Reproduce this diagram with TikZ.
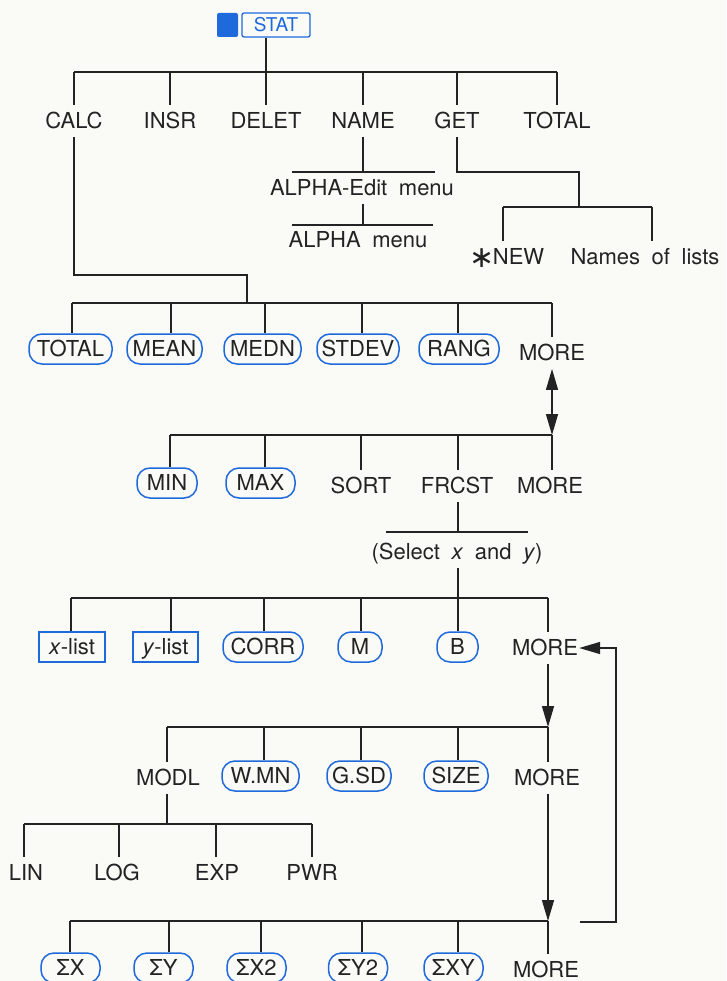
\documentclass[tikz,border=0pt]{standalone}
\usepackage{fontspec}
\setmainfont[WordSpace=1.9]{TeX Gyre Heros}
\newfontfamily\symfont{DejaVu Sans}
\usetikzlibrary{arrows.meta}
\definecolor{hpblue}{RGB}{30,105,220}
\definecolor{ink}{RGB}{35,35,35}
\definecolor{paper}{RGB}{250,250,246}
\newcommand\mystem[3]{\coordinate (#1) at (#2); \draw[ln] (#1) -- (#1 |- #3.north);}
\begin{document}
\begin{tikzpicture}[x=1pt,y=-1pt,
  every node/.style={font=\fontsize{22}{26}\selectfont, text=ink},
  lbl/.style={inner xsep=1pt, inner ysep=8pt, text height=15.5pt, text depth=0pt},
  oval/.style={draw=hpblue, line width=1.5pt, rounded corners=13pt, minimum height=30pt,
    inner xsep=2pt, inner ysep=0pt, text height=15.5pt, text depth=0pt},
  sq/.style={draw=hpblue, line width=1.5pt, minimum height=30pt,
    inner xsep=2pt, inner ysep=0pt, text height=15.5pt, text depth=0pt},
  ln/.style={draw=ink, line width=1.4pt},
  arr/.style={ln, -{Triangle[length=21pt,width=12pt]}},
  darr/.style={ln, {Triangle[length=21pt,width=12pt]}-{Triangle[length=21pt,width=12pt]}}]
\fill[paper] (0,0) rectangle (726,981);
\useasboundingbox (0,0) rectangle (726,981);

% top
\node[fill=hpblue, rounded corners=2pt, minimum width=21pt, minimum height=24pt, inner sep=0pt] (shiftkey) at (227.5,25) {};
\node[draw=hpblue, line width=1.3pt, rounded corners=2pt, minimum width=68pt, minimum height=24pt,
  inner sep=0pt, text=hpblue, font=\fontsize{19}{22}\selectfont] (stat) at (276,25) {STAT};
\coordinate (top) at (266,72);
\draw[ln] (top |- stat.south) -- (top);

% first menu row
\node[lbl] (calc) at (74,121) {CALC};
\node[lbl] (insr) at (170,121) {INSR};
\node[lbl] (delet) at (266,121) {DELET};
\node[lbl] (name) at (363,121) {NAME};
\node[lbl] (get) at (457,121) {GET};
\node[lbl] (total) at (557,121) {TOTAL};
\draw[ln] (calc.north |- top) -- (total.north |- top);
\foreach \n in {calc,insr,delet,name,get,total} \draw[ln] (\n.north |- top) -- (\n.north);

% NAME subtree
\node[lbl] (alphaedit) at (362,188) {ALPHA-Edit menu};
\node[lbl] (alpha) at (358,240) {ALPHA menu};
\draw[ln] (292,172) -- (435,172);
\draw[ln] (292,225) -- (433,225);
\draw[ln] (name.south) -- (name.south |- alphaedit.north);
\draw[ln] (name.south |- alphaedit.south) -- (name.south |- 292,225);

% GET subtree
\node[lbl] (new) at (507,257) {\raisebox{-3pt}{\symfont\fontsize{30}{30}\selectfont ∗}\kern-2pt NEW};
\node[lbl] (names) at (645,257) {Names of lists};
\coordinate (gbl) at (503,207);
\coordinate (gbr) at (652,207);
\coordinate (gmid) at (579,207);
\draw[ln] (get.south) |- (579,172) -- (gmid);
\draw[ln] (gbl) -- (gbr);
\draw[ln] (gbl) -- (gbl |- new.north);
\draw[ln] (gbr) -- (gbr |- names.north);

% CALC -> row 1
\node[oval, minimum width=83pt] (otot) at (70.5,349) {TOTAL};
\node[oval, minimum width=75pt] (mean) at (164.5,349) {MEAN};
\node[oval, minimum width=77pt] (medn) at (262.5,349) {MEDN};
\node[oval, minimum width=82pt] (stdev) at (358,349) {STDEV};
\node[oval, minimum width=80pt] (rang) at (459,349) {RANG};
\node[lbl] (more1) at (552,353) {MORE};
\draw[ln] (calc.south) |- (247,275) -- (247,303);
\draw[ln] (72,303) -- (552,303);
\mystem{a1}{72,303}{otot}
\mystem{a2}{171,303}{mean}
\mystem{a3}{265,303}{medn}
\mystem{a4}{362,303}{stdev}
\mystem{a5}{458,303}{rang}
\mystem{a6}{552,303}{more1}

% row 2
\node[oval, minimum width=60pt] (min) at (167,483) {MIN};
\node[oval, minimum width=69pt] (max) at (260.5,483) {MAX};
\node[lbl] (sort) at (361,486) {SORT};
\node[lbl] (frcst) at (457,486) {FRCST};
\node[lbl] (more2) at (550,486) {MORE};
\coordinate (r2r) at (552,435);
\draw[darr] (more1.south -| r2r) -- (r2r);
\draw[ln] (170,435) -- (r2r);
\mystem{b1}{170,435}{min}
\mystem{b2}{265,435}{max}
\mystem{b3}{361,435}{sort}
\mystem{b4}{458,435}{frcst}
\mystem{b5}{552,435}{more2}

% FRCST subtree
\node[lbl] (select) at (457,552) {(Select \textit{x} and \textit{y})};
\coordinate (fb) at (458,532);
\draw[ln] (frcst.south -| fb) -- (fb);
\draw[ln] (386,532) -- (528,532);
\coordinate (r3s) at (458,598);
\draw[ln] (select.south -| r3s) -- (r3s);

% row 3
\node[sq, minimum width=66pt] (xlist) at (72,647) {\textit{x}-list};
\node[sq, minimum width=65pt] (ylist) at (165.5,647) {\textit{y}-list};
\node[oval, minimum width=80pt] (corr) at (263,647) {CORR};
\node[oval, minimum width=44pt] (m) at (360,647) {M};
\node[oval, minimum width=41pt] (b) at (457.5,647) {B};
\node[lbl] (more3) at (545,648) {MORE};
\draw[ln] (71,598) -- (548,598);
\mystem{c1}{71,598}{xlist}
\mystem{c2}{171,598}{ylist}
\mystem{c3}{264,598}{corr}
\mystem{c4}{361,598}{m}
\mystem{c5}{458,598}{b}
\mystem{c6}{548,598}{more3}

% row 4
\node[lbl] (modl) at (168,778) {MODL};
\node[oval, minimum width=77pt] (wmn) at (260.5,776) {W.MN};
\node[oval, minimum width=64pt] (gsd) at (359,776) {G.SD};
\node[oval, minimum width=64pt] (size) at (456,776) {SIZE};
\node[lbl] (more4) at (547,778) {MORE};
\coordinate (r4r) at (548,727);
\draw[arr] (more3.south -| r4r) -- (r4r);
\draw[ln] (167,727) -- (r4r);
\mystem{d1}{167,727}{modl}
\mystem{d2}{264,727}{wmn}
\mystem{d3}{361,727}{gsd}
\mystem{d4}{458,727}{size}
\mystem{d5}{548,727}{more4}

% MODL subtree
\node[lbl] (lin) at (26,873) {LIN};
\node[lbl] (log) at (117,873) {LOG};
\node[lbl] (exp) at (217,873) {EXP};
\node[lbl] (pwr) at (312,873) {PWR};
\coordinate (mb) at (167,824);
\draw[ln] (modl.south -| mb) -- (mb);
\draw[ln] (24,824) -- (312,824);
\mystem{e1}{24,824}{lin}
\mystem{e2}{119,824}{log}
\mystem{e3}{216,824}{exp}
\mystem{e4}{312,824}{pwr}

% row 5
\node[oval, minimum width=59pt] (sx) at (70.5,968) {ΣX};
\node[oval, minimum width=59pt] (sy) at (163.5,968) {ΣY};
\node[oval, minimum width=59pt] (sx2) at (256.5,968) {ΣX2};
\node[oval, minimum width=59pt] (sy2) at (358,968) {ΣY2};
\node[oval, minimum width=59pt] (sxy) at (453.5,968) {ΣXY};
\node[lbl] (more5) at (546,970) {MORE};
\coordinate (r5r) at (548,921);
\draw[arr] (more4.south -| r5r) -- (r5r);
\draw[ln] (70,921) -- (r5r);
\mystem{f1}{70,921}{sx}
\mystem{f2}{169,921}{sy}
\mystem{f3}{261,921}{sx2}
\mystem{f4}{362,921}{sy2}
\mystem{f5}{458,921}{sxy}
\mystem{f6}{548,921}{more5}

% loop back
\coordinate (lp) at (580,922);
\draw[arr] (lp) -- (616,922) |- (more3.east);
\end{tikzpicture}
\end{document}
